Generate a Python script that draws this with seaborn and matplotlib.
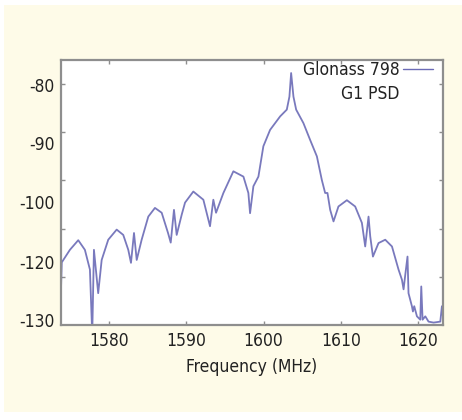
import matplotlib
matplotlib.use("Agg")
import matplotlib.pyplot as plt
from matplotlib.patches import Rectangle
from matplotlib.lines import Line2D
import seaborn as sns
import pandas as pd

freq_mhz = [1573.80, 1573.90, 1574.95, 1576.03, 1576.89, 1577.54, 1577.84, 1578.06, 1578.61,
            1579.06, 1579.91, 1581.00, 1581.85, 1582.50, 1582.85, 1583.24, 1583.59, 1584.23,
            1585.09, 1585.95, 1586.82, 1587.64, 1587.99, 1588.41, 1588.76, 1589.41, 1589.84,
            1590.91, 1592.21, 1593.07, 1593.50, 1593.85, 1594.80, 1596.09, 1597.39, 1598.03,
            1598.25, 1598.68, 1599.33, 1599.97, 1600.84, 1602.14, 1603.00, 1603.34, 1603.56,
            1603.86, 1604.21, 1605.15, 1606.02, 1606.89, 1607.53, 1607.96, 1608.26, 1608.61,
            1609.04, 1609.68, 1610.77, 1611.84, 1612.71, 1613.14, 1613.57, 1613.79, 1614.14,
            1614.86, 1615.73, 1616.60, 1617.45, 1617.89, 1618.10, 1618.32, 1618.61, 1618.74,
            1619.18, 1619.31, 1619.48, 1619.83, 1620.26, 1620.39, 1620.56, 1620.91, 1621.33,
            1621.98, 1622.85, 1623.06, 1623.27]
psd_db = [-122.5, -117.0, -114.4, -112.4, -114.4, -118.5, -132.0, -114.4, -123.4,
          -116.5, -112.3, -110.2, -111.3, -114.4, -117.1, -110.9, -116.5, -112.3,
          -107.5, -105.7, -106.7, -110.9, -112.9, -106.1, -111.3, -107.1, -104.6,
          -102.3, -104.0, -109.5, -104.0, -106.7, -102.6, -98.1, -99.2, -102.6,
          -106.8, -101.2, -99.2, -92.9, -89.5, -86.7, -85.3, -82.6, -77.7,
          -82.6, -85.3, -88.1, -91.6, -95.0, -99.9, -102.6, -102.6, -106.1,
          -108.5, -105.4, -104.1, -105.4, -108.8, -113.7, -107.5, -111.6, -115.8,
          -113.0, -112.3, -113.7, -118.5, -120.6, -122.6, -119.6, -115.8, -123.4,
          -126.1, -127.2, -126.1, -128.2, -128.9, -122.0, -128.9, -128.2, -129.3,
          -129.5, -129.3, -126.1, -129.5]

x_ticks = [1580, 1590, 1600, 1610, 1620]
y_tick_marks = [-80, -90, -100, -110, -120]
y_label_pos = [-80.1, -92.2, -104.4, -116.9, -128.9]
y_label_text = ["-80", "-90", "-100", "-120", "-130"]
legend_lines = ["Glonass 798", "G1 PSD"]

sns.set_theme(style="white")
plt.rcParams['font.family'] = ['DejaVu Sans']
plt.rcParams['font.stretch'] = 'condensed'
FS = 12.5

cream = "#fefbe8"
spine_c = "#8e8e8e"
line_c = "#6b6bb6"
text_c = "#222222"

fig = plt.figure(figsize=(4.62, 4.20), dpi=100, facecolor="white")
fig.patches.append(Rectangle((4 / 462, 1 - 412 / 420), 458 / 462, 407 / 420,
                             transform=fig.transFigure, facecolor=cream,
                             edgecolor="none", zorder=-10))
ax = fig.add_axes([61 / 462, 1 - 325 / 420, (443 - 61) / 462, (325 - 60) / 420])
ax.set_facecolor("white")

df = pd.DataFrame({"Frequency (MHz)": freq_mhz, "PSD": psd_db})
sns.lineplot(data=df, x="Frequency (MHz)", y="PSD", ax=ax, color=line_c,
             linewidth=1.3, alpha=0.9, estimator=None)

ax.set_xlim(1573.8, 1623.2)
ax.set_ylim(-130, -75)

ax.set_xticks(x_ticks)
ax.set_xticklabels([str(t) for t in x_ticks])
ax.set_yticks(y_label_pos)
ax.set_yticklabels(y_label_text)
ax.set_yticks(y_tick_marks, minor=True)
ax.tick_params(axis="y", which="major", length=0, pad=4.5, labelsize=FS,
               labelcolor=text_c)
ax.tick_params(axis="y", which="minor", direction="in", length=3, width=1,
               color=spine_c, left=True, right=True)
ax.tick_params(axis="x", which="major", direction="in", length=3, width=1,
               color=spine_c, top=True, bottom=True, pad=5, labelsize=FS,
               labelcolor=text_c)

for s in ax.spines.values():
    s.set_color(spine_c)
    s.set_linewidth(1.6)

ax.set_ylabel("")
ax.set_xlabel("Frequency (MHz)", fontsize=FS, color=text_c, labelpad=6)

handles = [Line2D([], [], color=line_c, linewidth=1.0),
           Line2D([], [], color="none")]
leg = ax.legend(handles, legend_lines, loc="upper right",
                bbox_to_anchor=(0.997, 1.03), frameon=False,
                markerfirst=False, fontsize=FS, handlelength=1.75,
                handletextpad=0.2, borderaxespad=0.1, labelspacing=0.35)
for t in leg.get_texts():
    t.set_color(text_c)

fig.savefig("out.png", dpi=100, facecolor=fig.get_facecolor())
